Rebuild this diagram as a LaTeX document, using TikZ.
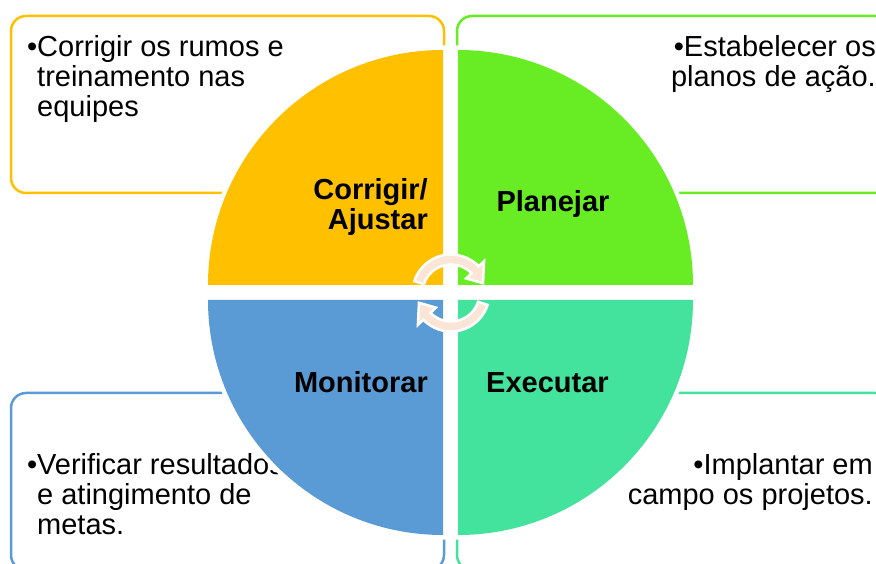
\documentclass[tikz,border=0pt]{standalone}
\usepackage{fontspec}
\setmainfont{Liberation Sans}
\definecolor{cOrange}{HTML}{FFC000}
\definecolor{cGreen}{HTML}{68EC24}
\definecolor{cBlue}{HTML}{5B9BD5}
\definecolor{cTeal}{HTML}{43E39D}
\definecolor{cPeach}{HTML}{FBE5D6}
\begin{document}
\begin{tikzpicture}[x=1pt,y=1pt,
  boxline/.style={line width=2.5pt, rounded corners=15pt},
  quad/.style={fill=#1, preaction={draw=white, line width=9pt}},
  txt/.style={inner sep=0pt, font=\fontsize{29}{30}\selectfont},
  lbl/.style={inner sep=0pt, font=\fontsize{29}{30}\selectfont\bfseries},
  cyc/.style={fill=cPeach, draw=white, line width=2.5pt, line join=miter}
]
\useasboundingbox (0,0) rectangle (876,563);
\clip (0,0) rectangle (876,563);
% outer boxes
\draw[boxline, draw=cOrange] (11,370) rectangle (444,547);
\draw[boxline, draw=cGreen] (457,370) rectangle (890,547);
\draw[boxline, draw=cBlue] (11,-7) rectangle (444,170);
\draw[boxline, draw=cTeal] (457,-7) rectangle (890,170);
% box texts
\node[txt, anchor=north west, align=left] (tTL) at (37,528) {\llap{•}Corrigir os rumos e\\treinamento nas\\equipes};
\node[txt, anchor=north east, align=right] (tTR) at (876,528) {•Estabelecer os\\planos de ação.};
\node[txt, anchor=north west, align=left] (tBL) at (37,110) {\llap{•}Verificar resultados\\e atingimento de\\metas.};
\node[txt, anchor=north east, align=right] (tBR) at (873,110) {•Implantar em\\campo os projetos.};
% quadrants
\path[quad=cOrange] (443,278) -- ++(-235,0) arc[start angle=180, end angle=90, radius=235] -- cycle;
\path[quad=cGreen] (458,278) -- ++(0,235) arc[start angle=90, end angle=0, radius=235] -- cycle;
\path[quad=cBlue] (443,263) -- ++(0,-235) arc[start angle=270, end angle=180, radius=235] -- cycle;
\path[quad=cTeal] (458,263) -- ++(235,0) arc[start angle=0, end angle=-90, radius=235] -- cycle;
% cycle arrows
\begin{scope}[shift={(451,270)}]
\path[cyc] (162:38.5) arc[start angle=162, end angle=44, radius=38.5] -- (44:46) -- (17:33.5) -- (44:21) -- (44:28.5) arc[start angle=44, end angle=162, radius=28.5] -- cycle;
\path[cyc] (-18:38.5) arc[start angle=-18, end angle=-136, radius=38.5] -- (224:46) -- (197:33.5) -- (224:21) -- (224:28.5) arc[start angle=-136, end angle=-18, radius=28.5] -- cycle;
\end{scope}
% labels
\node[lbl, anchor=north east, align=right] (lCA) at (428,385) {Corrigir/\\Ajustar};
\node[lbl, anchor=base] (lP) at (553,351) {Planejar};
\node[lbl, anchor=base east] (lM) at (428,171) {Monitorar};
\node[lbl, anchor=base west] (lE) at (486,171) {Executar};
\end{tikzpicture}
\end{document}
